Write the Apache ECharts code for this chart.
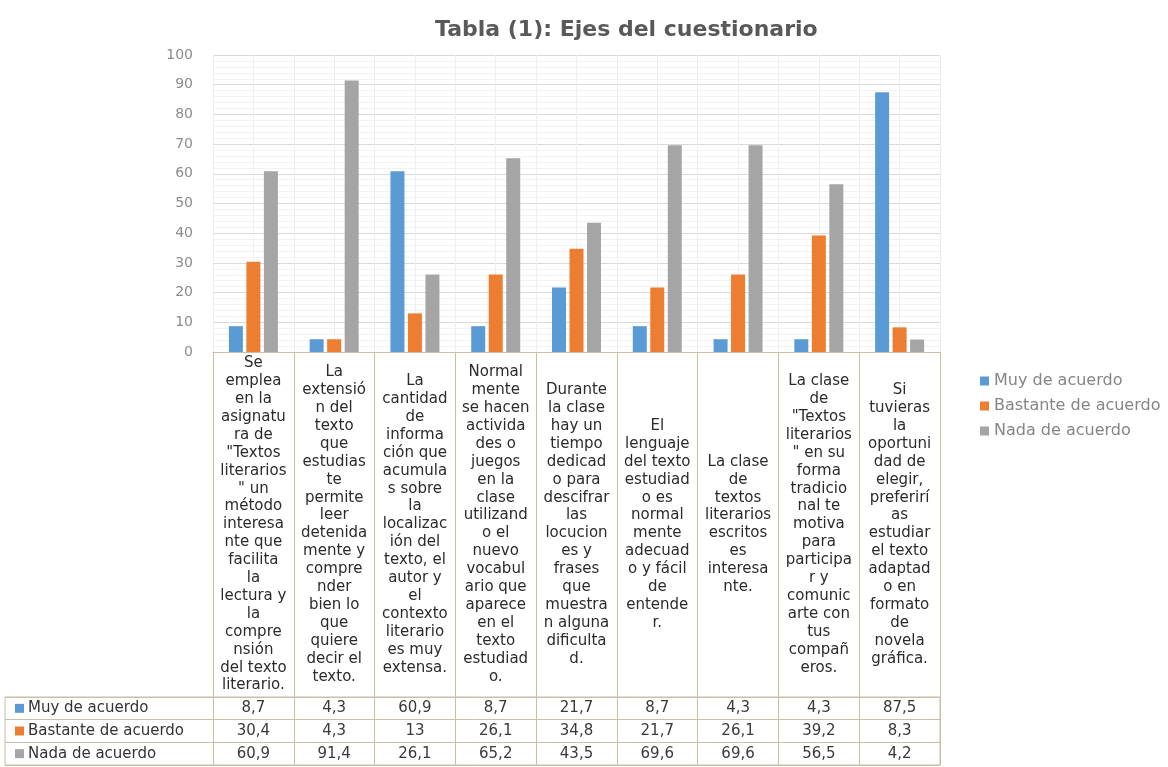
<!DOCTYPE html>
<html>
<head>
<meta charset="utf-8">
<script src="https://cdn.jsdelivr.net/npm/echarts@6/dist/echarts.min.js"></script>
<style>html,body{margin:0;padding:0;background:#fff;}#c{width:1168px;height:767px;}</style>
</head>
<body>
<div id="c"></div>
<script>
const categories = [
  'Se\nemplea\nen la\nasignatu\nra de\n"Textos\nliterarios\n" un\nmétodo\ninteresa\nnte que\nfacilita\nla\nlectura y\nla\ncompre\nnsión\ndel texto\nliterario.',
  'La\nextensió\nn del\ntexto\nque\nestudias\nte\npermite\nleer\ndetenida\nmente y\ncompre\nnder\nbien lo\nque\nquiere\ndecir el\ntexto.',
  'La\ncantidad\nde\ninforma\nción que\nacumula\ns sobre\nla\nlocalizac\nión del\ntexto, el\nautor y\nel\ncontexto\nliterario\nes muy\nextensa.',
  'Normal\nmente\nse hacen\nactivida\ndes o\njuegos\nen la\nclase\nutilizand\no el\nnuevo\nvocabul\nario que\naparece\nen el\ntexto\nestudiad\no.',
  'Durante\nla clase\nhay un\ntiempo\ndedicad\no para\ndescifrar\nlas\nlocucion\nes y\nfrases\nque\nmuestra\nn alguna\ndificulta\nd.',
  'El\nlenguaje\ndel texto\nestudiad\no es\nnormal\nmente\nadecuad\no y fácil\nde\nentende\nr.',
  'La clase\nde\ntextos\nliterarios\nescritos\nes\ninteresa\nnte.',
  'La clase\nde\n"Textos\nliterarios\n" en su\nforma\ntradicio\nnal te\nmotiva\npara\nparticipa\nr y\ncomunic\narte con\ntus\ncompañ\neros.',
  'Si\ntuvieras\nla\noportuni\ndad de\nelegir,\npreferirí\nas\nestudiar\nel texto\nadaptad\no en\nformato\nde\nnovela\ngráfica.'
];
const seriesNames = ['Muy de acuerdo', 'Bastante de acuerdo', 'Nada de acuerdo'];
const muyDeAcuerdo = [8.7, 4.3, 60.9, 8.7, 21.7, 8.7, 4.3, 4.3, 87.5];
const bastanteDeAcuerdo = [30.4, 4.3, 13, 26.1, 34.8, 21.7, 26.1, 39.2, 8.3];
const nadaDeAcuerdo = [60.9, 91.4, 26.1, 65.2, 43.5, 69.6, 69.6, 56.5, 4.2];
const yTicks = [0, 10, 20, 30, 40, 50, 60, 70, 80, 90, 100];
const title = 'Tabla (1): Ejes del cuestionario';

const colors = ['#5b9bd5', '#ed7d31', '#a5a5a5'];
const allValues = [muyDeAcuerdo, bastanteDeAcuerdo, nadaDeAcuerdo];
const FONT = 'DejaVu Sans';
const TAN = '#c9bea6';
const fmt = v => String(v).replace('.', ',');

const chart = echarts.init(document.getElementById('c'), null, {renderer: 'canvas'});

const valueAxes = allValues.map((vals, k) => ({
  type: 'category', gridIndex: 0, position: 'bottom',
  data: categories, offset: 345 + k * 22.7,
  axisLine: {show: false}, axisTick: {show: false}, splitLine: {show: false},
  axisLabel: {
    interval: 0, margin: 11.3, verticalAlign: 'middle',
    fontFamily: FONT, fontSize: 15, color: '#3a3a3a',
    formatter: (val, idx) => fmt(vals[idx])
  }
}));

const rich = {};
colors.forEach((c, i) => { rich['i' + i] = {width: 9, height: 9, backgroundColor: c}; });
rich.t = {fontFamily: FONT, fontSize: 15, color: '#333', padding: [0, 0, 0, 4]};

chart.setOption({
  animation: false,
  backgroundColor: '#fff',
  color: colors,
  title: {
    text: title, left: 430, top: 14,
    textStyle: {fontFamily: FONT, fontSize: 22, fontWeight: 'bold', color: '#595959'}
  },
  legend: {
    data: seriesNames, orient: 'vertical', left: 975, top: 368,
    icon: 'rect', itemWidth: 9, itemHeight: 9, itemGap: 9,
    textStyle: {fontFamily: FONT, fontSize: 16, color: '#858585'}
  },
  grid: [
    {left: 213, top: 55, width: 727, height: 297, outerBoundsMode: 'none'},
    {left: 5, top: 697, width: 935, height: 68, show: true, borderColor: TAN, borderWidth: 1, outerBoundsMode: 'none'}
  ],
  xAxis: [
    {
      type: 'category', gridIndex: 0, position: 'bottom', data: categories,
      axisLine: {show: true, lineStyle: {color: TAN, width: 1}},
      axisTick: {show: true, interval: 0, length: 413, lineStyle: {color: TAN, width: 1}},
      splitLine: {show: false},
      axisLabel: {
        interval: 0, hideOverlap: false, margin: 172.5, verticalAlign: 'middle',
        fontFamily: FONT, fontSize: 15, lineHeight: 17.9, color: '#2b2b2b', align: 'center'
      }
    },
    ...valueAxes,
    {
      type: 'value', gridIndex: 0, min: 0, max: 18, interval: 1, position: 'top',
      axisLine: {show: false}, axisTick: {show: false}, axisLabel: {show: false},
      splitLine: {show: true, lineStyle: {color: '#eeeeee', width: 1}}
    },
    {type: 'value', gridIndex: 1, show: false, min: 0, max: 1}
  ],
  yAxis: [
    {
      type: 'value', gridIndex: 0, min: 0, max: 100, interval: 10,
      axisLine: {show: false}, axisTick: {show: false},
      axisLabel: {
        margin: 20, fontFamily: FONT, fontSize: 14, color: '#8c8c8c',
        formatter: v => (yTicks.indexOf(v) >= 0 ? String(v) : '')
      },
      splitLine: {show: true, lineStyle: {color: '#d9d9d9', width: 1}},
      minorTick: {show: false, splitNumber: 5},
      minorSplitLine: {show: true, lineStyle: {color: '#f2f2f2', width: 1}}
    },
    {
      type: 'category', gridIndex: 1, inverse: true, data: seriesNames,
      axisLine: {show: false}, axisTick: {show: false},
      splitLine: {show: true, interval: 0, lineStyle: {color: TAN, width: 1}},
      axisLabel: {
        inside: true, align: 'left', margin: 10, interval: 0,
        formatter: (val, idx) => '{i' + idx + '|}{t|' + val + '}',
        rich: rich
      }
    }
  ],
  series: seriesNames.map((name, i) => ({
    name: name, type: 'bar', xAxisIndex: 0, yAxisIndex: 0,
    data: allValues[i], barWidth: 14, barGap: '25%',
    itemStyle: {color: colors[i]}
  }))
});
</script>
</body>
</html>
